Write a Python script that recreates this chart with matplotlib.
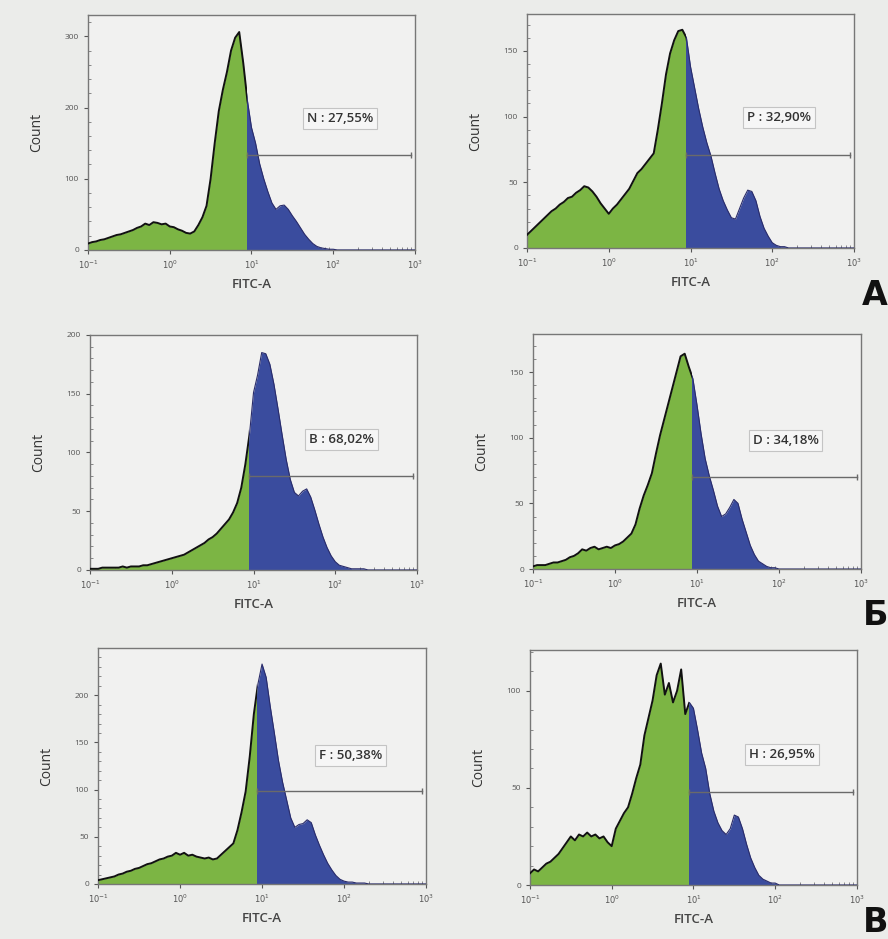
import numpy as np
import matplotlib.pyplot as plt
from matplotlib.patches import Rectangle
from matplotlib.ticker import AutoMinorLocator, LogLocator, NullFormatter

plt.rcParams['font.family'] = ['Open Sans', 'DejaVu Sans']

# bin positions on the FITC-A axis (log10), -1 .. 3 in 0.05 steps
log_fitc = np.round(np.arange(-1.0, 3.001, 0.05), 2)
fitc = 10 ** log_fitc

# counts, one value per bin
counts_n = [9, 11, 12, 14, 15, 17, 19, 21, 22, 24, 26, 28, 31, 33, 37, 35, 39, 38, 36, 37,
            33, 32, 29, 27, 24, 23, 26, 35, 46, 62, 100, 150, 195, 225, 250, 280, 298, 306, 262, 210,
            172, 150, 121, 100, 82, 66, 57, 62, 63, 57, 48, 40, 31, 22, 15, 9, 5, 3, 2, 1,
            1] + [0] * 20
counts_p = [10, 13, 16, 19, 22, 25, 28, 30, 33, 35, 38, 39, 42, 44, 47, 46, 43, 39, 34, 30,
            26, 30, 33, 37, 41, 45, 51, 57, 60, 64, 68, 72, 90, 110, 132, 148, 158, 165, 166, 160,
            138, 122, 106, 92, 80, 70, 57, 45, 36, 29, 23, 22, 30, 38, 44, 43, 36, 24, 15, 9,
            4, 2, 1, 1] + [0] * 17
counts_b = [1, 1, 1, 2, 2, 2, 2, 2, 3, 2, 3, 3, 3, 4, 4, 5, 6, 7, 8, 9,
            10, 11, 12, 13, 15, 17, 19, 21, 23, 26, 28, 31, 35, 39, 43, 49, 57, 70, 90, 115,
            151, 166, 185, 184, 175, 158, 137, 115, 94, 77, 66, 63, 67, 69, 62, 51, 39, 28, 19, 12,
            7, 4, 3, 2, 1, 1, 1, 1] + [0] * 13
counts_d = [2, 3, 3, 3, 4, 5, 5, 6, 7, 9, 10, 12, 15, 14, 16, 17, 15, 16, 17, 16,
            18, 19, 21, 24, 27, 34, 46, 56, 64, 73, 88, 102, 114, 126, 138, 150, 162, 164, 154, 145,
            125, 103, 84, 71, 60, 48, 40, 42, 47, 53, 50, 38, 28, 18, 11, 6, 4, 2, 1, 1] + [0] * 21
counts_f = [4, 5, 6, 7, 8, 10, 11, 13, 14, 16, 17, 19, 21, 22, 24, 26, 27, 29, 30, 33,
            31, 33, 30, 31, 29, 28, 27, 28, 26, 27, 31, 35, 39, 43, 57, 76, 98, 135, 180, 212,
            233, 219, 188, 160, 131, 108, 89, 70, 60, 63, 64, 68, 65, 52, 41, 31, 22, 15, 9, 5,
            3, 2, 2, 1, 1, 1] + [0] * 15
counts_h = [6, 8, 7, 9, 11, 12, 14, 16, 19, 22, 25, 23, 26, 25, 27, 25, 26, 24, 25, 22,
            20, 29, 33, 37, 40, 47, 55, 62, 77, 86, 95, 108, 114, 98, 104, 94, 100, 111, 88, 94,
            91, 80, 68, 60, 47, 38, 32, 28, 26, 29, 36, 35, 29, 21, 14, 9, 5, 3, 2, 1,
            1] + [0] * 20

panel_counts = [counts_n, counts_p, counts_b, counts_d, counts_f, counts_h]
gate_names = ['N', 'P', 'B', 'D', 'F', 'H']
gate_pct = ['27,55%', '32,90%', '68,02%', '34,18%', '50,38%', '26,95%']
y_max = [330, 178, 200, 179, 250, 121]
y_ticks = [[0, 100, 200, 300], [0, 50, 100, 150], [0, 50, 100, 150, 200],
           [0, 50, 100, 150], [0, 50, 100, 150, 200], [0, 50, 100]]
gate_level = [133, 71, 80, 70, 99, 48]
label_level = [184, 99, 111, 98, 136, 67]
split_x = 10 ** 0.94
gate_end = 10 ** 2.95
label_x = 10 ** 2.08
x_ticks = [0.1, 1, 10, 100, 1000]
x_tick_labels = ['$10^{-1}$', '$10^{0}$', '$10^{1}$', '$10^{2}$', '$10^{3}$']
row_letters = ['А', 'Б', 'В']

# axes boxes in figure fractions
boxes = [[0.0991, 0.7338, 0.3682, 0.2503], [0.5935, 0.7359, 0.3682, 0.2492],
         [0.1014, 0.3930, 0.3682, 0.2503], [0.6002, 0.3940, 0.3694, 0.2503],
         [0.1104, 0.0586, 0.3694, 0.2513], [0.5968, 0.0575, 0.3682, 0.2503]]

green = '#7cb544'
blue = '#3a4c9e'
bg = '#ebecea'

fig = plt.figure(figsize=(8.88, 9.39), dpi=100, facecolor=bg)

for i in range(6):
    ax = fig.add_axes(boxes[i])
    ax.set_facecolor('#f1f1f0')
    cnt = np.array(panel_counts[i], dtype=float)
    ax.set_xscale('log')
    ax.set_xlim(0.1, 1000)
    ax.set_ylim(0, y_max[i])

    left_clip = Rectangle((0.1, 0), split_x - 0.1, y_max[i] * 2, transform=ax.transData)
    right_clip = Rectangle((split_x, 0), 1000 - split_x, y_max[i] * 2, transform=ax.transData)

    f_g = ax.fill_between(fitc, cnt, 0, color=green, lw=0, zorder=2)
    f_g.set_clip_path(left_clip)
    f_b = ax.fill_between(fitc, cnt, 0, color=blue, lw=0, zorder=2)
    f_b.set_clip_path(right_clip)
    l_g, = ax.plot(fitc, cnt, color='#111111', lw=1.4, zorder=3)
    l_g.set_clip_path(left_clip)
    l_b, = ax.plot(fitc, cnt, color='#2a2c6a', lw=0.8, zorder=3)
    l_b.set_clip_path(right_clip)

    # gate marker
    ax.plot([split_x, gate_end], [gate_level[i], gate_level[i]], color='#6a6a6a', lw=1.0,
            marker='|', markersize=5, markeredgewidth=1.0, zorder=4)
    ax.text(label_x, label_level[i], f'{gate_names[i]} : {gate_pct[i]}', ha='center', va='center',
            fontsize=9.5, color='#333333', fontweight='semibold', zorder=5,
            bbox=dict(boxstyle='square,pad=0.3', fc='#f6f6f6', ec='#c4c4c4', lw=0.8))

    ax.set_xticks(x_ticks)
    ax.set_xticklabels(x_tick_labels)
    ax.xaxis.set_minor_locator(LogLocator(base=10, subs=np.arange(2, 10)))
    ax.xaxis.set_minor_formatter(NullFormatter())
    ax.set_yticks(y_ticks[i])
    ax.yaxis.set_minor_locator(AutoMinorLocator(5))
    ax.tick_params(axis='both', which='major', labelsize=6, colors='#555555', length=3, width=0.8)
    ax.tick_params(axis='both', which='minor', direction='in', length=2, width=0.6, colors='#777777')
    for s in ax.spines.values():
        s.set_color('#777777')
        s.set_linewidth(1.0)

    ax.set_xlabel('FITC-A', fontsize=9.5, color='#444444', fontweight='semibold', labelpad=5)
    ax.set_ylabel('Count', fontsize=10, color='#333333', labelpad=15)

letter_y = [0.668, 0.327, 0.0]
for letter, yy in zip(row_letters, letter_y):
    fig.text(1.0, yy, letter, ha='right', va='bottom', fontsize=24, fontweight='bold',
             color='#111111', family=['DejaVu Sans'])

fig.savefig('out.png', dpi=100, facecolor=bg)
